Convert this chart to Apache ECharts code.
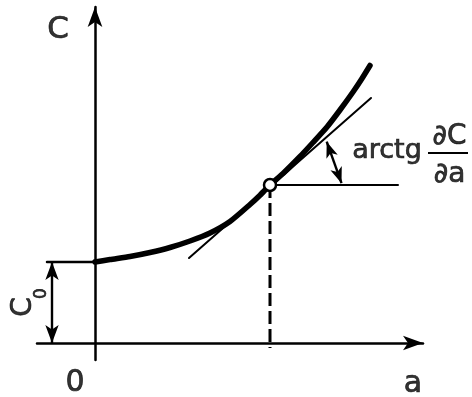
<!DOCTYPE html>
<html>
<head>
<meta charset="utf-8">
<script src="https://cdn.jsdelivr.net/npm/echarts@6/dist/echarts.min.js"></script>
<style>html,body{margin:0;padding:0;background:#fff;}#c{width:472px;height:397px;}</style>
</head>
<body>
<div id="c"></div>
<script>
// Curve c(a) (a: horizontal, c: vertical)
const curveA = [0, 1.5, 3.5, 5.5, 7.5, 9.5, 11.5, 13.5, 15.5, 16.5, 17.5, 18.8, 20.5, 21.8, 23.2, 24.5, 25.8, 26.7, 27.5];
const curveC = [8.1, 8.35, 8.65, 9.05, 9.55, 10.2, 11.0, 12.15, 13.85, 14.78, 15.8, 16.95, 18.65, 20.05, 21.6, 23.3, 25.1, 26.45, 27.75];
// Tangent line at the marked point
const tangentA = [9.4, 27.6];
const tangentC = [8.5, 24.5];
// Marked point
const pointA = 17.5;
const pointC = 15.8;
// Horizontal reference line from the point
const horizA = [17.5, 30.3];
// Dashed drop line bottom
const dropBottomC = -0.5;
// Intercept c0
const c0 = 8.1;
const c0LineA = [-4.8, 0];
const c0ArrowA = -4.3;
// Angle arrow ends
const arcStart = [23.17, 20.13];
const arcEnd = [24.65, 15.98];
// Fraction bar
const fracBarA = 35.3;
const fracBarC = 19.0;
// Text labels
const labelTexts = ['C', '0', 'a', 'arctg', '∂C', '∂a', 'C', '0'];
const labelA = [-3.7, -2.0, 31.8, 29.2, 35.45, 35.45, -7.1, -5.3];
const labelC = [31.3, -4.0, -4.1, 19.2, 20.6, 16.85, 3.6, 4.95];
const labelSize = [31, 30, 30, 27, 28, 28, 28, 17];
const labelRotate = [0, 0, 0, 0, 0, 0, 90, 90];

const ink = '#000';
const font = 'DejaVu Sans';

const axisCommon = {
  type: 'value',
  axisLine: { show: true, onZero: true, symbol: ['none', 'arrow'], symbolSize: [11, 20], lineStyle: { color: ink, width: 2.5 } },
  axisTick: { show: false },
  axisLabel: { show: false },
  splitLine: { show: false }
};

const lineBase = (data, width, extra) => Object.assign({
  type: 'line', data: data, showSymbol: false, symbol: 'none', clip: false, silent: true,
  lineStyle: { color: ink, width: width, cap: 'round' }
}, extra || {});

const option = {
  animation: false,
  backgroundColor: '#fff',
  grid: { left: 37, right: 49, top: 7, bottom: 37 },
  xAxis: Object.assign({}, axisCommon, { min: -5.8, max: 32.8 }),
  yAxis: Object.assign({}, axisCommon, { min: -1.7, max: 33.6 }),
  series: [
    lineBase(curveA.map((a, i) => [a, curveC[i]]), 5.5, { smooth: 0.2, z: 5 }),
    lineBase(tangentA.map((a, i) => [a, tangentC[i]]), 2),
    lineBase(horizA.map(a => [a, pointC]), 2),
    lineBase([[pointA, pointC], [pointA, dropBottomC]], 3, { lineStyle: { color: ink, width: 3, type: [13, 5] } }),
    lineBase(c0LineA.map(a => [a, c0]), 2.5, {
      markLine: {
        silent: true, symbol: ['arrow', 'arrow'], symbolSize: [10, 18],
        label: { show: false },
        lineStyle: { color: ink, width: 2.4, type: 'solid' },
        data: [
          [{ coord: [c0ArrowA, c0] }, { coord: [c0ArrowA, 0] }],
          [{ coord: arcStart, symbolSize: [9, 16], lineStyle: { curveness: 0.17 } }, { coord: arcEnd, symbolSize: [9, 16] }]
        ]
      }
    }),
    {
      type: 'scatter', data: [[fracBarA, fracBarC]], symbol: 'rect', symbolSize: [40, 2.2], clip: false, silent: true,
      itemStyle: { color: ink, opacity: 1 }
    },
    {
      type: 'scatter', data: [[pointA, pointC]], symbol: 'circle', symbolSize: 12, clip: false, silent: true, z: 10,
      itemStyle: { color: '#fff', borderColor: ink, borderWidth: 2.5, opacity: 1 }
    },
    {
      type: 'scatter', symbolSize: 0, clip: false, silent: true, z: 11,
      data: labelTexts.map((t, i) => ({
        value: [labelA[i], labelC[i]],
        label: {
          show: true, position: 'inside', formatter: t, rotate: labelRotate[i],
          fontFamily: font, fontSize: labelSize[i], color: ink, align: 'center', verticalAlign: 'middle',
          textBorderColor: ink, textBorderWidth: 0.7
        }
      }))
    }
  ]
};

const chart = echarts.init(document.getElementById('c'), null, { renderer: 'canvas' });
chart.setOption(option);
</script>
</body>
</html>
